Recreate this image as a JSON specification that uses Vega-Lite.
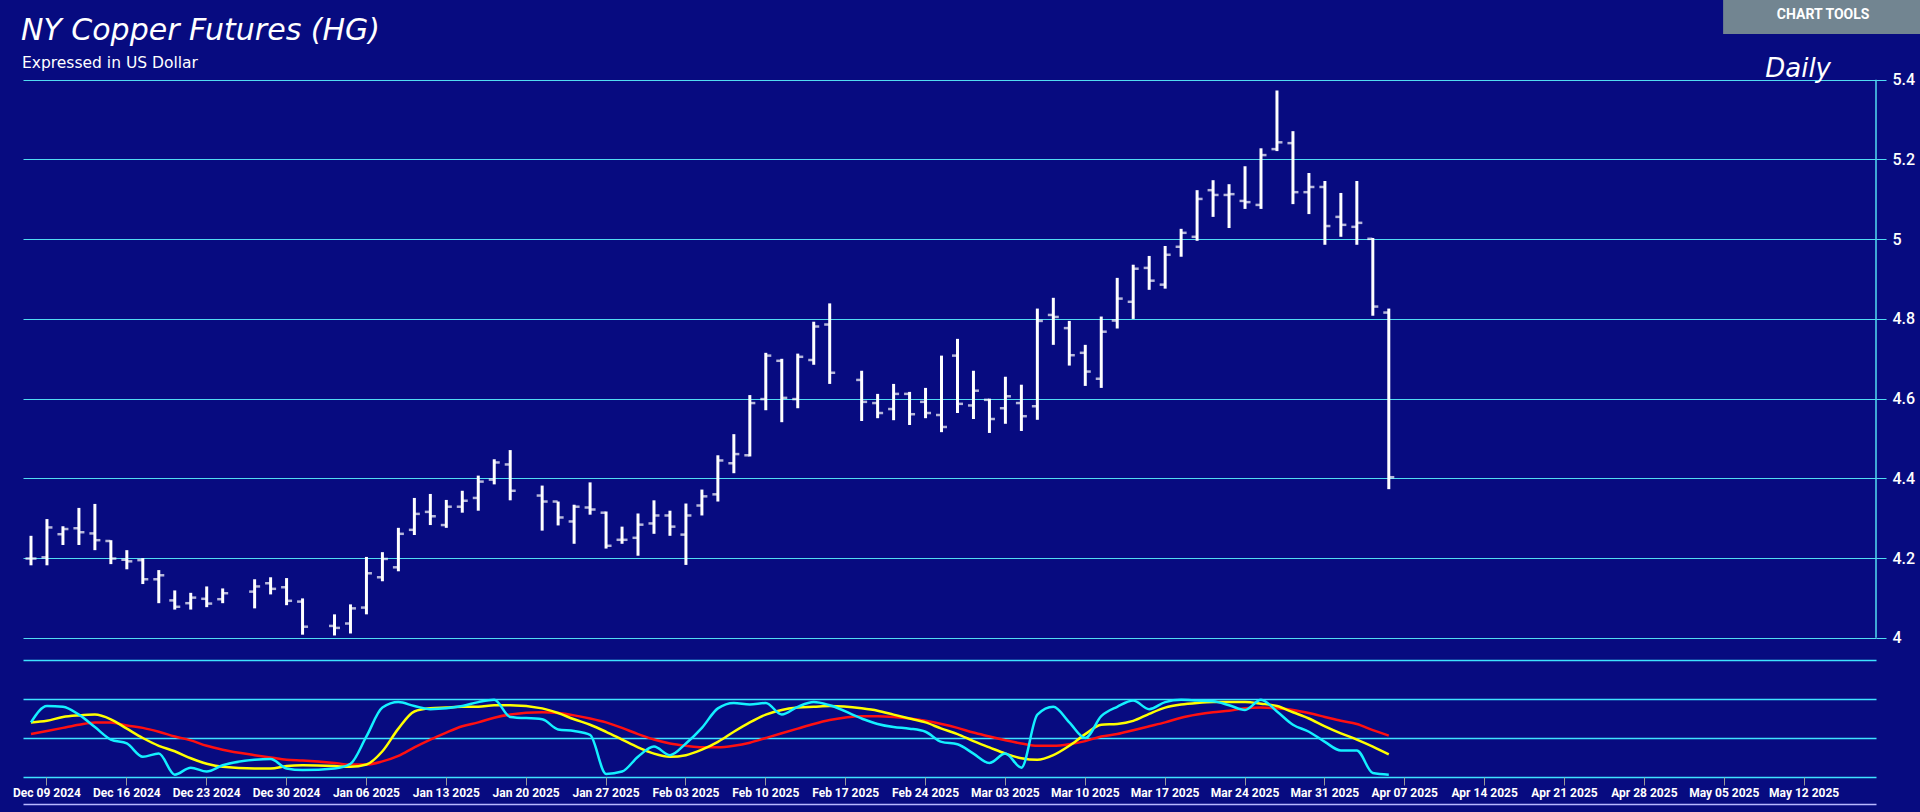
{
"$schema": "https://vega.github.io/schema/vega-lite/v6.json",
"background": "#070b80",
"padding": {"left": 12, "top": 0, "right": 0, "bottom": 6},
"spacing": 1,
"config": {"view": {"stroke": null}, "font": "Roboto"},
"datasets": {
"ohlc": [
{"date":"2024-12-06","open":4.199,"high":4.256,"low":4.182,"close":4.199},
{"date":"2024-12-09","open":4.202,"high":4.298,"low":4.182,"close":4.277},
{"date":"2024-12-10","open":4.26,"high":4.28,"low":4.233,"close":4.273},
{"date":"2024-12-11","open":4.275,"high":4.326,"low":4.233,"close":4.265},
{"date":"2024-12-12","open":4.262,"high":4.336,"low":4.22,"close":4.245},
{"date":"2024-12-13","open":4.243,"high":4.245,"low":4.185,"close":4.199},
{"date":"2024-12-16","open":4.196,"high":4.22,"low":4.172,"close":4.192},
{"date":"2024-12-17","open":4.195,"high":4.2,"low":4.135,"close":4.147},
{"date":"2024-12-18","open":4.147,"high":4.17,"low":4.087,"close":4.157},
{"date":"2024-12-19","open":4.094,"high":4.119,"low":4.071,"close":4.078},
{"date":"2024-12-20","open":4.087,"high":4.113,"low":4.071,"close":4.101},
{"date":"2024-12-23","open":4.098,"high":4.129,"low":4.077,"close":4.086},
{"date":"2024-12-24","open":4.097,"high":4.124,"low":4.087,"close":4.112},
{"date":"2024-12-26","open":4.116,"high":4.147,"low":4.074,"close":4.129},
{"date":"2024-12-27","open":4.137,"high":4.152,"low":4.109,"close":4.123},
{"date":"2024-12-30","open":4.127,"high":4.15,"low":4.082,"close":4.093},
{"date":"2024-12-31","open":4.091,"high":4.099,"low":4.008,"close":4.028},
{"date":"2025-01-02","open":4.03,"high":4.059,"low":4.006,"close":4.025},
{"date":"2025-01-03","open":4.036,"high":4.084,"low":4.011,"close":4.074},
{"date":"2025-01-06","open":4.076,"high":4.203,"low":4.059,"close":4.162},
{"date":"2025-01-07","open":4.152,"high":4.215,"low":4.142,"close":4.198},
{"date":"2025-01-08","open":4.177,"high":4.276,"low":4.167,"close":4.261},
{"date":"2025-01-09","open":4.271,"high":4.351,"low":4.258,"close":4.311},
{"date":"2025-01-10","open":4.316,"high":4.361,"low":4.283,"close":4.305},
{"date":"2025-01-13","open":4.283,"high":4.346,"low":4.276,"close":4.329},
{"date":"2025-01-14","open":4.329,"high":4.369,"low":4.314,"close":4.344},
{"date":"2025-01-15","open":4.351,"high":4.407,"low":4.319,"close":4.392},
{"date":"2025-01-16","open":4.397,"high":4.448,"low":4.385,"close":4.44},
{"date":"2025-01-17","open":4.435,"high":4.471,"low":4.345,"close":4.369},
{"date":"2025-01-21","open":4.357,"high":4.382,"low":4.269,"close":4.342},
{"date":"2025-01-22","open":4.342,"high":4.342,"low":4.282,"close":4.302},
{"date":"2025-01-23","open":4.292,"high":4.334,"low":4.236,"close":4.329},
{"date":"2025-01-24","open":4.327,"high":4.39,"low":4.309,"close":4.322},
{"date":"2025-01-27","open":4.314,"high":4.317,"low":4.224,"close":4.231},
{"date":"2025-01-28","open":4.246,"high":4.279,"low":4.236,"close":4.246},
{"date":"2025-01-29","open":4.251,"high":4.312,"low":4.206,"close":4.284},
{"date":"2025-01-30","open":4.287,"high":4.345,"low":4.261,"close":4.307},
{"date":"2025-01-31","open":4.307,"high":4.319,"low":4.256,"close":4.279},
{"date":"2025-02-03","open":4.259,"high":4.337,"low":4.183,"close":4.307},
{"date":"2025-02-04","open":4.332,"high":4.372,"low":4.307,"close":4.355},
{"date":"2025-02-05","open":4.36,"high":4.458,"low":4.342,"close":4.445},
{"date":"2025-02-06","open":4.438,"high":4.511,"low":4.413,"close":4.461},
{"date":"2025-02-07","open":4.458,"high":4.609,"low":4.455,"close":4.589},
{"date":"2025-02-10","open":4.599,"high":4.715,"low":4.571,"close":4.708},
{"date":"2025-02-11","open":4.695,"high":4.7,"low":4.541,"close":4.602},
{"date":"2025-02-12","open":4.599,"high":4.713,"low":4.576,"close":4.705},
{"date":"2025-02-13","open":4.697,"high":4.793,"low":4.685,"close":4.781},
{"date":"2025-02-14","open":4.786,"high":4.839,"low":4.637,"close":4.665},
{"date":"2025-02-18","open":4.647,"high":4.67,"low":4.544,"close":4.592},
{"date":"2025-02-19","open":4.589,"high":4.612,"low":4.551,"close":4.564},
{"date":"2025-02-20","open":4.574,"high":4.637,"low":4.546,"close":4.612},
{"date":"2025-02-21","open":4.612,"high":4.617,"low":4.534,"close":4.561},
{"date":"2025-02-24","open":4.592,"high":4.627,"low":4.551,"close":4.564},
{"date":"2025-02-25","open":4.559,"high":4.708,"low":4.516,"close":4.529},
{"date":"2025-02-26","open":4.708,"high":4.75,"low":4.564,"close":4.587},
{"date":"2025-02-27","open":4.583,"high":4.67,"low":4.549,"close":4.62},
{"date":"2025-02-28","open":4.597,"high":4.6,"low":4.514,"close":4.549},
{"date":"2025-03-03","open":4.576,"high":4.655,"low":4.537,"close":4.606},
{"date":"2025-03-04","open":4.589,"high":4.635,"low":4.519,"close":4.556},
{"date":"2025-03-05","open":4.581,"high":4.826,"low":4.547,"close":4.795},
{"date":"2025-03-06","open":4.81,"high":4.853,"low":4.735,"close":4.805},
{"date":"2025-03-07","open":4.777,"high":4.795,"low":4.683,"close":4.709},
{"date":"2025-03-10","open":4.715,"high":4.735,"low":4.632,"close":4.668},
{"date":"2025-03-11","open":4.65,"high":4.806,"low":4.627,"close":4.768},
{"date":"2025-03-12","open":4.796,"high":4.903,"low":4.776,"close":4.851},
{"date":"2025-03-13","open":4.843,"high":4.936,"low":4.8,"close":4.926},
{"date":"2025-03-14","open":4.928,"high":4.958,"low":4.873,"close":4.896},
{"date":"2025-03-17","open":4.886,"high":4.983,"low":4.876,"close":4.961},
{"date":"2025-03-18","open":4.981,"high":5.026,"low":4.956,"close":5.016},
{"date":"2025-03-19","open":5.006,"high":5.123,"low":4.996,"close":5.101},
{"date":"2025-03-20","open":5.123,"high":5.148,"low":5.056,"close":5.111},
{"date":"2025-03-21","open":5.111,"high":5.138,"low":5.028,"close":5.113},
{"date":"2025-03-24","open":5.096,"high":5.183,"low":5.076,"close":5.093},
{"date":"2025-03-25","open":5.086,"high":5.228,"low":5.076,"close":5.211},
{"date":"2025-03-26","open":5.226,"high":5.373,"low":5.221,"close":5.243},
{"date":"2025-03-27","open":5.241,"high":5.271,"low":5.088,"close":5.118},
{"date":"2025-03-28","open":5.118,"high":5.166,"low":5.063,"close":5.131},
{"date":"2025-03-31","open":5.131,"high":5.146,"low":4.986,"close":5.033},
{"date":"2025-04-01","open":5.056,"high":5.116,"low":5.006,"close":5.036},
{"date":"2025-04-02","open":5.031,"high":5.146,"low":4.986,"close":5.041},
{"date":"2025-04-03","open":5.001,"high":5.003,"low":4.808,"close":4.831},
{"date":"2025-04-04","open":4.816,"high":4.826,"low":4.373,"close":4.403}
],
"osc": [
{"date":"2024-12-06","k":70,"d":70,"s":55},
{"date":"2024-12-09","k":91,"d":72,"s":59},
{"date":"2024-12-10","k":90,"d":77,"s":63},
{"date":"2024-12-11","k":80,"d":79,"s":67},
{"date":"2024-12-12","k":64,"d":80,"s":70},
{"date":"2024-12-13","k":48,"d":74,"s":70},
{"date":"2024-12-16","k":43,"d":62,"s":66},
{"date":"2024-12-17","k":26,"d":50,"s":63},
{"date":"2024-12-18","k":30,"d":40,"s":58},
{"date":"2024-12-19","k":3,"d":33,"s":52},
{"date":"2024-12-20","k":12,"d":24,"s":47},
{"date":"2024-12-23","k":7,"d":17,"s":40},
{"date":"2024-12-24","k":15,"d":13,"s":35},
{"date":"2024-12-26","k":22,"d":11,"s":28},
{"date":"2024-12-27","k":23,"d":11,"s":25},
{"date":"2024-12-30","k":11,"d":14,"s":22},
{"date":"2024-12-31","k":9,"d":15,"s":21},
{"date":"2025-01-02","k":11,"d":14,"s":18},
{"date":"2025-01-03","k":17,"d":13,"s":16},
{"date":"2025-01-06","k":52,"d":16,"s":16},
{"date":"2025-01-07","k":89,"d":33,"s":20},
{"date":"2025-01-08","k":96,"d":62,"s":27},
{"date":"2025-01-09","k":91,"d":84,"s":38},
{"date":"2025-01-10","k":87,"d":88,"s":48},
{"date":"2025-01-13","k":88,"d":89,"s":57},
{"date":"2025-01-14","k":91,"d":90,"s":65},
{"date":"2025-01-15","k":96,"d":90,"s":70},
{"date":"2025-01-16","k":99,"d":92,"s":76},
{"date":"2025-01-17","k":77,"d":92,"s":80},
{"date":"2025-01-21","k":74,"d":88,"s":83},
{"date":"2025-01-22","k":61,"d":82,"s":82},
{"date":"2025-01-23","k":59,"d":74,"s":79},
{"date":"2025-01-24","k":54,"d":67,"s":75},
{"date":"2025-01-27","k":4,"d":58,"s":70},
{"date":"2025-01-28","k":7,"d":48,"s":63},
{"date":"2025-01-29","k":26,"d":38,"s":55},
{"date":"2025-01-30","k":39,"d":30,"s":48},
{"date":"2025-01-31","k":28,"d":26,"s":43},
{"date":"2025-02-03","k":43,"d":28,"s":40},
{"date":"2025-02-04","k":63,"d":35,"s":38},
{"date":"2025-02-05","k":88,"d":45,"s":38},
{"date":"2025-02-06","k":95,"d":58,"s":40},
{"date":"2025-02-07","k":93,"d":70,"s":44},
{"date":"2025-02-10","k":95,"d":80,"s":50},
{"date":"2025-02-11","k":80,"d":86,"s":56},
{"date":"2025-02-12","k":90,"d":89,"s":62},
{"date":"2025-02-13","k":96,"d":90,"s":68},
{"date":"2025-02-14","k":92,"d":91,"s":73},
{"date":"2025-02-18","k":75,"d":88,"s":78},
{"date":"2025-02-19","k":68,"d":85,"s":78},
{"date":"2025-02-20","k":64,"d":80,"s":77},
{"date":"2025-02-21","k":62,"d":75,"s":75},
{"date":"2025-02-24","k":58,"d":70,"s":72},
{"date":"2025-02-25","k":45,"d":62,"s":68},
{"date":"2025-02-26","k":42,"d":55,"s":63},
{"date":"2025-02-27","k":30,"d":46,"s":57},
{"date":"2025-02-28","k":18,"d":38,"s":52},
{"date":"2025-03-03","k":30,"d":30,"s":47},
{"date":"2025-03-04","k":12,"d":24,"s":43},
{"date":"2025-03-05","k":80,"d":22,"s":40},
{"date":"2025-03-06","k":90,"d":28,"s":40},
{"date":"2025-03-07","k":70,"d":40,"s":42},
{"date":"2025-03-10","k":50,"d":55,"s":46},
{"date":"2025-03-11","k":78,"d":67,"s":52},
{"date":"2025-03-12","k":90,"d":68,"s":55},
{"date":"2025-03-13","k":98,"d":72,"s":60},
{"date":"2025-03-14","k":87,"d":81,"s":65},
{"date":"2025-03-17","k":96,"d":89,"s":70},
{"date":"2025-03-18","k":99,"d":93,"s":76},
{"date":"2025-03-19","k":98,"d":95,"s":80},
{"date":"2025-03-20","k":97,"d":96,"s":83},
{"date":"2025-03-21","k":92,"d":96,"s":85},
{"date":"2025-03-24","k":86,"d":96,"s":88},
{"date":"2025-03-25","k":99,"d":94,"s":89},
{"date":"2025-03-26","k":84,"d":91,"s":88},
{"date":"2025-03-27","k":67,"d":83,"s":86},
{"date":"2025-03-28","k":58,"d":75,"s":82},
{"date":"2025-03-31","k":45,"d":65,"s":77},
{"date":"2025-04-01","k":34,"d":56,"s":72},
{"date":"2025-04-02","k":34,"d":48,"s":68},
{"date":"2025-04-03","k":5,"d":39,"s":60},
{"date":"2025-04-04","k":3,"d":29,"s":53}
],
"days": [
{"date":"2024-12-06"},{"date":"2025-05-16"}
]
},
"vconcat": [
{
"width": 1853,
"height": 659,
"data": {"name": "ohlc"},
"encoding": {
"x": {"field": "date", "type": "ordinal", "axis": null,
"scale": {"type": "band", "paddingInner": 0, "paddingOuter": 0, "domain": ["2024-12-06","2024-12-09","2024-12-10","2024-12-11","2024-12-12","2024-12-13","2024-12-16","2024-12-17","2024-12-18","2024-12-19","2024-12-20","2024-12-23","2024-12-24","2024-12-25","2024-12-26","2024-12-27","2024-12-30","2024-12-31","2025-01-01","2025-01-02","2025-01-03","2025-01-06","2025-01-07","2025-01-08","2025-01-09","2025-01-10","2025-01-13","2025-01-14","2025-01-15","2025-01-16","2025-01-17","2025-01-20","2025-01-21","2025-01-22","2025-01-23","2025-01-24","2025-01-27","2025-01-28","2025-01-29","2025-01-30","2025-01-31","2025-02-03","2025-02-04","2025-02-05","2025-02-06","2025-02-07","2025-02-10","2025-02-11","2025-02-12","2025-02-13","2025-02-14","2025-02-17","2025-02-18","2025-02-19","2025-02-20","2025-02-21","2025-02-24","2025-02-25","2025-02-26","2025-02-27","2025-02-28","2025-03-03","2025-03-04","2025-03-05","2025-03-06","2025-03-07","2025-03-10","2025-03-11","2025-03-12","2025-03-13","2025-03-14","2025-03-17","2025-03-18","2025-03-19","2025-03-20","2025-03-21","2025-03-24","2025-03-25","2025-03-26","2025-03-27","2025-03-28","2025-03-31","2025-04-01","2025-04-02","2025-04-03","2025-04-04","2025-04-07","2025-04-08","2025-04-09","2025-04-10","2025-04-11","2025-04-14","2025-04-15","2025-04-16","2025-04-17","2025-04-18","2025-04-21","2025-04-22","2025-04-23","2025-04-24","2025-04-25","2025-04-28","2025-04-29","2025-04-30","2025-05-01","2025-05-02","2025-05-05","2025-05-06","2025-05-07","2025-05-08","2025-05-09","2025-05-12","2025-05-13","2025-05-14","2025-05-15","2025-05-16"]}}
},
"layer": [
{"mark": {"type": "rule", "color": "white", "strokeWidth": 3},
"encoding": {
"y": {"field": "low", "type": "quantitative", "scale": {"domain": [3.947, 5.6], "nice": false, "zero": false},
"axis": {"orient": "right", "values": [4,4.2,4.4,4.6,4.8,5,5.2,5.4], "format": ".2~f", "title": null, "grid": true, "gridColor": "#52dcf2", "gridWidth": 1, "domain": false, "ticks": true, "tickSize": 10, "tickColor": "#52dcf2", "tickWidth": 1, "labelColor": "white", "labelFont": "Roboto", "labelFontSize": 16, "labelFontWeight": 500, "labelPadding": 6}},
"y2": {"field": "high"}}},
{"mark": {"type": "tick", "orient": "horizontal", "color": "white", "size": 5, "thickness": 2.5, "xOffset": -3},
"encoding": {"y": {"field": "open", "type": "quantitative"}}},
{"mark": {"type": "tick", "orient": "horizontal", "color": "white", "size": 5, "thickness": 2.5, "xOffset": 3},
"encoding": {"y": {"field": "close", "type": "quantitative"}}},
{"data": {"values": [{}]},
"mark": {"type": "rule", "color": "#52dcf2", "strokeWidth": 1.5},
"encoding": {"x": {"datum": "2025-05-16", "bandPosition": 1}, "y": {"datum": 4}, "y2": {"datum": 5.4}}},
{"data": {"values": [{}]},
"mark": {"type": "text", "text": "NY Copper Futures (HG)", "font": "DejaVu Sans", "fontStyle": "italic", "fontSize": 30, "color": "white", "align": "left", "baseline": "alphabetic", "dx": -2, "dy": 40},
"encoding": {"x": {"datum": "2024-12-06", "bandPosition": 0}, "y": {"datum": 5.6}}},
{"data": {"values": [{}]},
"mark": {"type": "text", "text": "Expressed in US Dollar", "font": "DejaVu Sans", "fontSize": 15.5, "color": "white", "align": "left", "baseline": "alphabetic", "dx": -1, "dy": 68},
"encoding": {"x": {"datum": "2024-12-06", "bandPosition": 0}, "y": {"datum": 5.6}}},
{"data": {"values": [{}]},
"mark": {"type": "text", "text": "Daily", "font": "DejaVu Sans", "fontStyle": "italic", "fontSize": 26, "color": "white", "align": "right", "baseline": "alphabetic", "dx": -45, "dy": -3},
"encoding": {"x": {"datum": "2025-05-16", "bandPosition": 1}, "y": {"datum": 5.4}}},
{"data": {"values": [{}]},
"mark": {"type": "rect", "color": "#728591", "width": 200, "xOffset": 19},
"encoding": {"x": {"datum": "2025-05-12"}, "y": {"datum": 5.6}, "y2": {"datum": 5.5147}}},
{"data": {"values": [{}]},
"mark": {"type": "text", "text": "CHART TOOLS", "font": "Roboto", "fontWeight": "bold", "fontSize": 14, "color": "white", "align": "center", "baseline": "middle", "dx": 19, "dy": 15},
"encoding": {"x": {"datum": "2025-05-12"}, "y": {"datum": 5.6}}}
]
},
{
"spacing": 3,
"vconcat": [
{
"width": 1853,
"height": 117,
"data": {"name": "osc"},
"transform": [{"fold": ["s", "d", "k"], "as": ["series", "value"]}],
"mark": {"type": "line", "strokeWidth": 2.5, "interpolate": "monotone"},
"encoding": {
"x": {"field": "date", "type": "ordinal",
"scale": {"type": "band", "paddingInner": 0, "paddingOuter": 0, "domain": ["2024-12-06","2024-12-09","2024-12-10","2024-12-11","2024-12-12","2024-12-13","2024-12-16","2024-12-17","2024-12-18","2024-12-19","2024-12-20","2024-12-23","2024-12-24","2024-12-25","2024-12-26","2024-12-27","2024-12-30","2024-12-31","2025-01-01","2025-01-02","2025-01-03","2025-01-06","2025-01-07","2025-01-08","2025-01-09","2025-01-10","2025-01-13","2025-01-14","2025-01-15","2025-01-16","2025-01-17","2025-01-20","2025-01-21","2025-01-22","2025-01-23","2025-01-24","2025-01-27","2025-01-28","2025-01-29","2025-01-30","2025-01-31","2025-02-03","2025-02-04","2025-02-05","2025-02-06","2025-02-07","2025-02-10","2025-02-11","2025-02-12","2025-02-13","2025-02-14","2025-02-17","2025-02-18","2025-02-19","2025-02-20","2025-02-21","2025-02-24","2025-02-25","2025-02-26","2025-02-27","2025-02-28","2025-03-03","2025-03-04","2025-03-05","2025-03-06","2025-03-07","2025-03-10","2025-03-11","2025-03-12","2025-03-13","2025-03-14","2025-03-17","2025-03-18","2025-03-19","2025-03-20","2025-03-21","2025-03-24","2025-03-25","2025-03-26","2025-03-27","2025-03-28","2025-03-31","2025-04-01","2025-04-02","2025-04-03","2025-04-04","2025-04-07","2025-04-08","2025-04-09","2025-04-10","2025-04-11","2025-04-14","2025-04-15","2025-04-16","2025-04-17","2025-04-18","2025-04-21","2025-04-22","2025-04-23","2025-04-24","2025-04-25","2025-04-28","2025-04-29","2025-04-30","2025-05-01","2025-05-02","2025-05-05","2025-05-06","2025-05-07","2025-05-08","2025-05-09","2025-05-12","2025-05-13","2025-05-14","2025-05-15","2025-05-16"]},
"axis": {"orient": "bottom", "title": null, "values": ["2024-12-09","2024-12-16","2024-12-23","2024-12-30","2025-01-06","2025-01-13","2025-01-20","2025-01-27","2025-02-03","2025-02-10","2025-02-17","2025-02-24","2025-03-03","2025-03-10","2025-03-17","2025-03-24","2025-03-31","2025-04-07","2025-04-14","2025-04-21","2025-04-28","2025-05-05","2025-05-12"],
"labelExpr": "utcFormat(toDate(datum.value), '%b %d %Y')", "bandPosition": 0.5, "domain": false, "grid": false, "ticks": true, "tickColor": "#9a9a9a", "tickSize": 8, "tickWidth": 1, "labelColor": "white", "labelFont": "Roboto", "labelFontSize": 12, "labelFontWeight": "bold", "labelPadding": 2, "labelAngle": 0, "labelOverlap": false}},
"y": {"field": "value", "type": "quantitative", "scale": {"domain": [0, 150], "nice": false, "zero": false},
"axis": {"orient": "right", "title": null, "values": [0, 50, 100, 150], "grid": true, "gridColor": "#3fe3ff", "gridWidth": 1.5, "labels": false, "ticks": false, "domain": false}},
"color": {"field": "series", "type": "nominal", "legend": null, "scale": {"domain": ["s", "d", "k"], "range": ["#ff1010", "#ffff00", "#14f0ff"]}}
}
},
{
"width": 1853,
"height": 1,
"data": {"name": "days"},
"mark": {"type": "point", "opacity": 0},
"encoding": {
"x": {"field": "date", "type": "ordinal",
"scale": {"type": "band", "paddingInner": 0, "paddingOuter": 0, "domain": ["2024-12-06","2025-05-16"]},
"axis": {"orient": "top", "title": null, "labels": false, "ticks": false, "grid": false, "domain": true, "domainColor": "#b8b8ff", "domainWidth": 1.5}}
}
}
]
}
]
}
